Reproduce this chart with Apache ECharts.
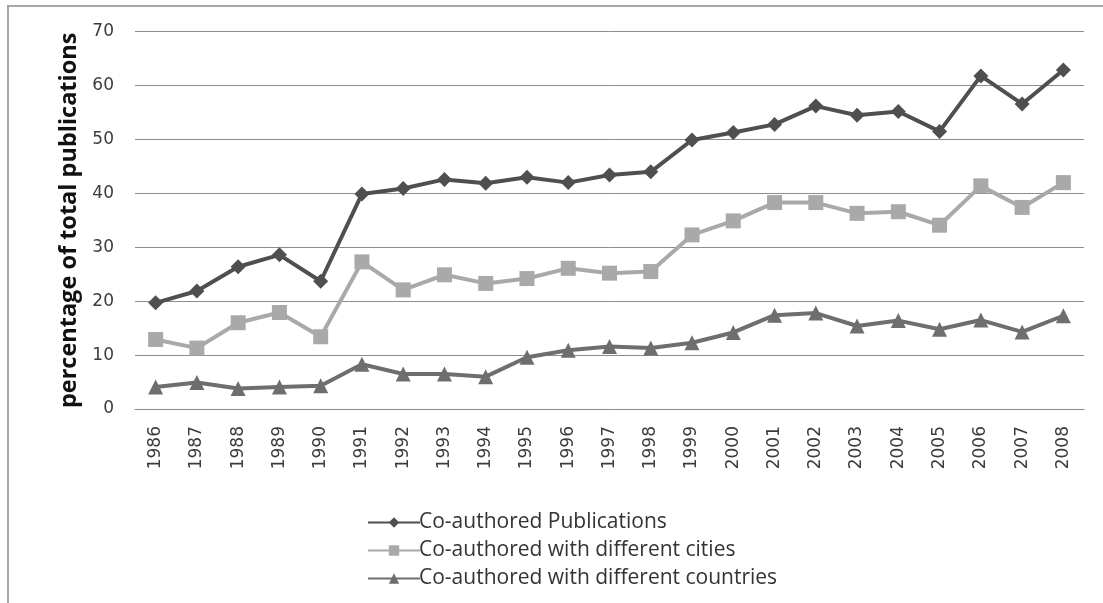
<!DOCTYPE html>
<html>
<head>
<meta charset="utf-8">
<script src="https://cdn.jsdelivr.net/npm/echarts@6/dist/echarts.min.js"></script>
<style>
  html, body { margin: 0; padding: 0; background: #ffffff; }
  #chart { width: 1103px; height: 603px; }
</style>
</head>
<body>
<div id="chart"></div>
<script>
// Years on the category axis
const years = ['1986','1987','1988','1989','1990','1991','1992','1993','1994','1995','1996','1997',
               '1998','1999','2000','2001','2002','2003','2004','2005','2006','2007','2008'];

// Percentage of total publications per year
const coauthored = [19.7, 21.9, 26.4, 28.6, 23.7, 39.9, 40.9, 42.6, 41.9, 43.0, 42.0, 43.4,
                    44.0, 49.9, 51.3, 52.8, 56.2, 54.5, 55.2, 51.5, 61.8, 56.6, 62.9];
const diffCities = [12.9, 11.3, 16.0, 17.9, 13.4, 27.3, 22.1, 24.9, 23.3, 24.2, 26.1, 25.2,
                    25.5, 32.3, 34.9, 38.3, 38.3, 36.3, 36.6, 34.1, 41.4, 37.4, 42.0];
const diffCountries = [4.1, 4.9, 3.8, 4.1, 4.3, 8.3, 6.5, 6.5, 6.0, 9.6, 10.9, 11.6,
                       11.3, 12.3, 14.2, 17.4, 17.8, 15.4, 16.4, 14.8, 16.5, 14.3, 17.3];

const seriesNames = ['Co-authored Publications', 'Co-authored with different cities', 'Co-authored with different countries'];
const yTicks = { min: 0, max: 70, interval: 10 };

const chart = echarts.init(document.getElementById('chart'));

function lineSeries(name, data, color, symbol, size) {
  return {
    name: name,
    type: 'line',
    data: data,
    symbol: symbol,
    symbolSize: size,
    lineStyle: { color: color, width: 4 },
    itemStyle: { color: color },
    animation: false
  };
}

chart.setOption({
  backgroundColor: '#ffffff',
  animation: false,
  graphic: [{
    type: 'rect',
    shape: { x: 8, y: 6, width: 1200, height: 700 },
    style: { fill: 'none', stroke: '#a6a6a6', lineWidth: 2 },
    silent: true
  }],
  grid: { left: 135, right: 19, top: 31.7, bottom: 194, containLabel: false },
  legend: {
    orient: 'vertical',
    left: 362,
    top: 507,
    itemWidth: 52,
    itemHeight: 13,
    itemGap: 7,
    textStyle: { fontFamily: 'Open Sans', fontSize: 21, lineHeight: 20, color: '#333333', padding: [0, 0, 0, -6] },
    data: seriesNames
  },
  xAxis: {
    type: 'category',
    data: years,
    boundaryGap: true,
    axisLine: { show: true, lineStyle: { color: '#8a8a8a', width: 1 } },
    axisTick: { show: false },
    axisLabel: {
      rotate: 90,
      margin: 17,
      fontFamily: 'DejaVu Sans',
      fontSize: 17,
      color: '#3c3c3c',
      interval: 0
    }
  },
  yAxis: {
    type: 'value',
    min: yTicks.min,
    max: yTicks.max,
    interval: yTicks.interval,
    name: 'percentage of total publications',
    nameLocation: 'middle',
    nameGap: 53,
    nameTextStyle: { fontFamily: 'Open Sans', fontWeight: 'bold', fontSize: 23.5, color: '#111111' },
    axisLine: { show: false },
    axisTick: { show: false },
    axisLabel: { margin: 21, fontFamily: 'DejaVu Sans', fontSize: 17, color: '#3c3c3c' },
    splitLine: { show: true, lineStyle: { color: '#8c8c8c', width: 1 } }
  },
  series: [
    lineSeries(seriesNames[0], coauthored, '#4f4f4f', 'diamond', 15),
    lineSeries(seriesNames[1], diffCities, '#a9a9a9', 'rect', 15),
    lineSeries(seriesNames[2], diffCountries, '#6e6e6e', 'triangle', 15)
  ]
});
</script>
</body>
</html>
